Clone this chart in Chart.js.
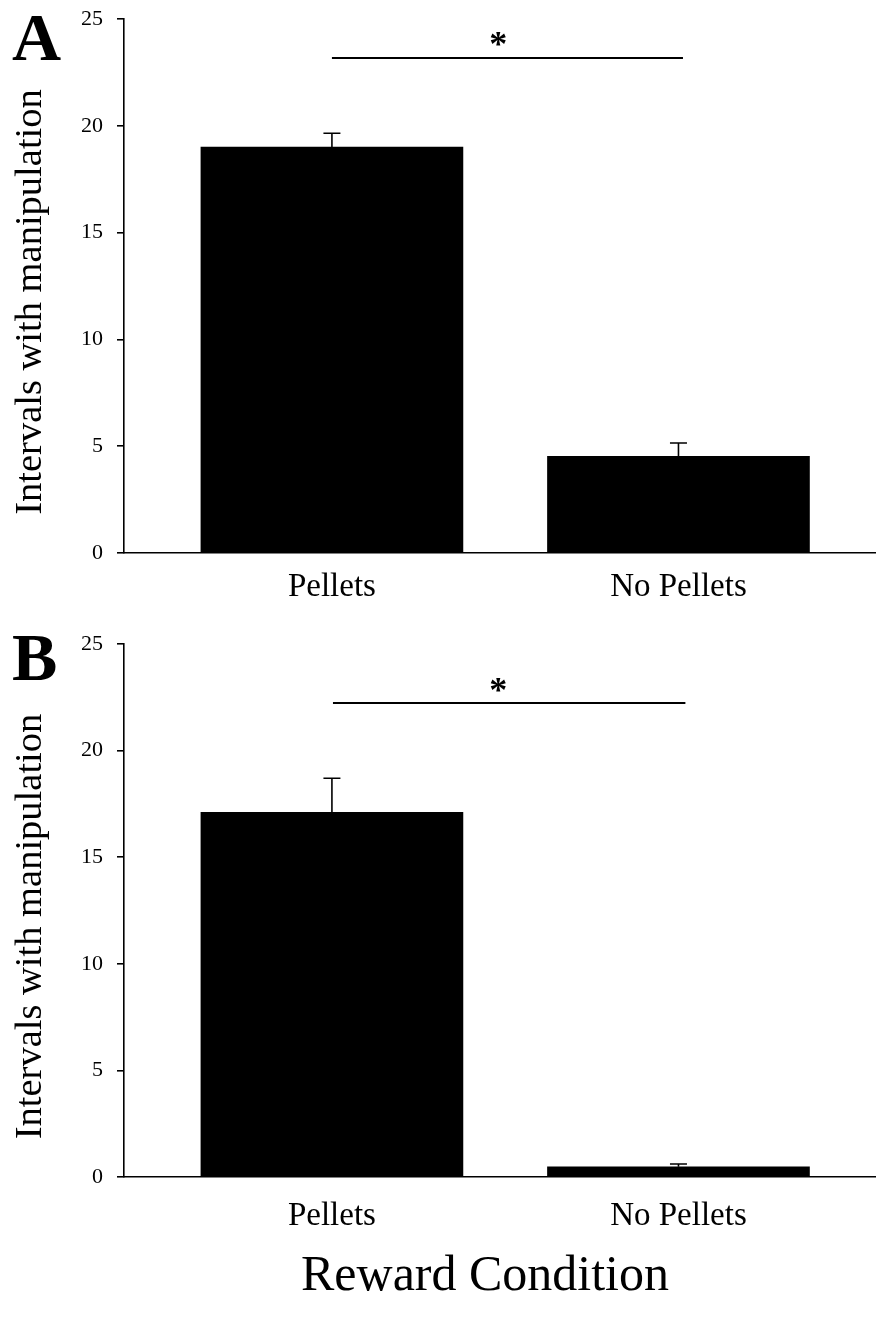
<!DOCTYPE html>
<html>
<head>
<meta charset="utf-8">
<script src="https://cdn.jsdelivr.net/npm/chart.js@4.4.0/dist/chart.umd.min.js"></script>
<style>
  html, body { margin: 0; padding: 0; background: #fff; overflow: hidden; }
  #wrap { position: relative; width: 876px; height: 1321px; }
  .pane { position: absolute; left: 0; width: 876px; }
  #pa { top: 0; height: 620px; }
  #pb { top: 620px; height: 701px; }
</style>
</head>
<body>
<div id="wrap">
  <div class="pane" id="pa"><canvas id="cA" width="876" height="620"></canvas></div>
  <div class="pane" id="pb"><canvas id="cB" width="876" height="701"></canvas></div>
</div>
<script>
// ---- data ----
const categories = ['Pellets', 'No Pellets'];
const yTicks = [0, 5, 10, 15, 20, 25];
const meansA = [19.0, 4.53];
const errorsA = [0.65, 0.62];
const meansB = [17.1, 0.48];
const errorsB = [1.6, 0.13];
// significance bracket: [xStart, xEnd, yValue], asterisk [x, y]
const sigA = [0, 1.013, 23.17];
const starA = [0.48, 24.0];
const sigB = [0.003, 1.02, 22.23];
const starB = [0.48, 23.0];
const yTitle = 'Intervals with manipulation';
const xTitle = 'Reward Condition';

const FONT = "'Liberation Serif', 'Times New Roman', Times, serif";

function makeChart(id, means, errors, sig, star, letter, opts) {
  const data = means.map((v, i) => ({ x: i, y: v }));
  const overlay = {
    id: 'overlay',
    afterDatasetsDraw(chart) {
      const ctx = chart.ctx;
      const xs = chart.scales.x, ys = chart.scales.y;
      ctx.save();
      ctx.strokeStyle = '#000';
      ctx.lineWidth = 1.6;
      means.forEach((m, i) => {
        const px = xs.getPixelForValue(i);
        const yb = ys.getPixelForValue(m);
        const yt = ys.getPixelForValue(m + errors[i]);
        ctx.beginPath();
        ctx.moveTo(px, yb);
        ctx.lineTo(px, yt);
        ctx.moveTo(px - 8.5, yt);
        ctx.lineTo(px + 8.5, yt);
        ctx.stroke();
      });
      ctx.lineWidth = 2;
      ctx.beginPath();
      const sy = ys.getPixelForValue(sig[2]);
      ctx.moveTo(xs.getPixelForValue(sig[0]), sy);
      ctx.lineTo(xs.getPixelForValue(sig[1]), sy);
      ctx.stroke();
      ctx.fillStyle = '#000';
      ctx.font = 'bold 36px ' + FONT;
      ctx.textAlign = 'center';
      ctx.textBaseline = 'middle';
      ctx.fillText('*', xs.getPixelForValue(star[0]), ys.getPixelForValue(star[1]) + 6);
      ctx.restore();
    },
    afterDraw(chart) {
      const ctx = chart.ctx;
      const ca = chart.chartArea;
      ctx.save();
      ctx.fillStyle = '#000';
      ctx.font = 'bold 68px ' + FONT;
      ctx.textAlign = 'left';
      ctx.textBaseline = 'alphabetic';
      ctx.fillText(letter, 12, opts.letterBase);
      ctx.font = '38.5px ' + FONT;
      ctx.translate(31, (ca.top + ca.bottom) / 2 + opts.titleShift);
      ctx.rotate(-Math.PI / 2);
      ctx.textAlign = 'center';
      ctx.textBaseline = 'middle';
      ctx.fillText(yTitle, 0, 0);
      ctx.restore();
      if (opts.xTitle) {
        ctx.save();
        ctx.fillStyle = '#000';
        ctx.font = '50px ' + FONT;
        ctx.textAlign = 'center';
        ctx.textBaseline = 'alphabetic';
        ctx.fillText(xTitle, 485, opts.xTitleBase);
        ctx.restore();
      }
    }
  };
  return new Chart(document.getElementById(id), {
    type: 'bar',
    data: {
      datasets: [{
        data: data,
        backgroundColor: '#000',
        borderColor: '#000',
        borderWidth: 0,
        barThickness: 262
      }]
    },
    options: {
      responsive: false,
      animation: false,
      events: [],
      layout: { padding: { top: opts.padTop, right: 0, bottom: 0, left: 0 } },
      plugins: { legend: { display: false }, tooltip: { enabled: false }, title: { display: false } },
      scales: {
        x: {
          type: 'linear',
          offset: false,
          min: -0.6,
          max: 1.57,
          afterFit(s) { s.height = opts.xHeight; },
          afterBuildTicks(s) { s.ticks = categories.map((c, i) => ({ value: i })); },
          grid: { display: false, drawTicks: false },
          border: { display: true, color: '#000', width: 1.6 },
          ticks: {
            autoSkip: false,
            maxRotation: 0,
            padding: opts.xPad,
            color: '#000',
            font: { family: FONT, size: 33 },
            callback: (v) => categories[v]
          }
        },
        y: {
          min: 0,
          max: 25,
          afterFit(s) { s.width = 124; s.paddingTop = 12; s.paddingBottom = 12; },
          afterBuildTicks(s) { s.ticks = yTicks.map(v => ({ value: v })); },
          grid: { drawOnChartArea: false, drawTicks: true, tickLength: 7, color: '#000', lineWidth: 1.6 },
          border: { display: true, color: '#000', width: 1.6 },
          ticks: {
            padding: 14,
            color: '#000',
            font: { family: FONT, size: 22 }
          }
        }
      }
    },
    plugins: [overlay]
  });
}

makeChart('cA', meansA, errorsA, sigA, starA, 'A',
  { padTop: 19, xHeight: 67, xPad: 15, letterBase: 60, titleShift: 16 });
makeChart('cB', meansB, errorsB, sigB, starB, 'B',
  { padTop: 24, xHeight: 144, xPad: 20, letterBase: 60, titleShift: 16, xTitle: true, xTitleBase: 670 });
</script>
</body>
</html>
